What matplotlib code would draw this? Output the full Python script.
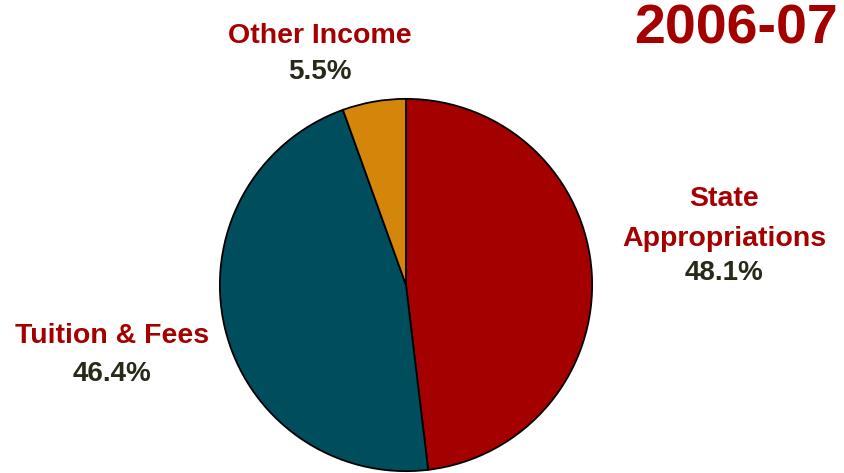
import matplotlib.pyplot as plt

# revenue shares, 2006-07
sources = ["State\nAppropriations", "Tuition & Fees", "Other Income"]
shares = [48.1, 46.4, 5.5]
colors = ["#A50000", "#004D5E", "#D4860B"]

# label anchor points, pixels from the top-left corner
label_xy = [(724, 219), (112, 336), (320, 36)]
pct_xy = [(724, 273), (112, 374), (320, 72)]

W, H = 845, 473
red = "#A50000"
dark = "#262B17"

plt.rcParams['font.family'] = ['Liberation Sans', 'DejaVu Sans']

fig = plt.figure(figsize=(W / 100, H / 100), dpi=100)

cx, cy, r = 406, 285, 188
ax = fig.add_axes([(cx - r) / W, (H - cy - r) / H, 2 * r / W, 2 * r / H])
ax.pie(shares, colors=colors, startangle=90, counterclock=False, radius=1,
       wedgeprops=dict(edgecolor="black", linewidth=1.3))
ax.set_xlim(-1.01, 1.01)
ax.set_ylim(-1.01, 1.01)
ax.set_aspect("equal")
ax.axis("off")

for name, val, (lx, ly), (px, py) in zip(sources, shares, label_xy, pct_xy):
    fig.text(lx / W, 1 - ly / H, name, ha="center", va="center", color=red,
             fontsize=20.5, fontweight="bold", linespacing=1.7)
    fig.text(px / W, 1 - py / H, "%.1f%%" % val, ha="center", va="center",
             color=dark, fontsize=20, fontweight="bold")

fig.text(838 / W, 1 - 30 / H, "2006-07", ha="right", va="center", color=red,
         fontsize=40, fontweight="bold")

fig.savefig("out.png", dpi=100)
